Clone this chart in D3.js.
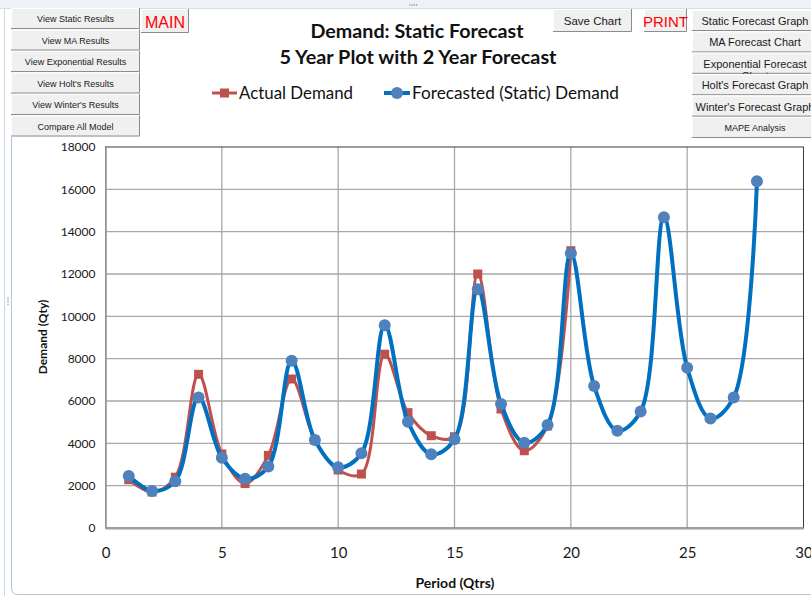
<!DOCTYPE html>
<html>
<head>
<meta charset="utf-8">
<script src="https://cdn.jsdelivr.net/npm/d3@7"></script>
<style>
  html, body { margin: 0; padding: 0; background: #ffffff; }
  svg { display: block; }
  text { font-family: Lato, "Open Sans", "DejaVu Sans", sans-serif; }
  .btn text { font-family: "Liberation Sans", Arial, sans-serif; fill: #1a1a1a; }
</style>
</head>
<body>
<svg id="chart" width="811" height="596"></svg>
<script>
// Quarterly periods and demand series
const actualPeriods = d3.range(1, 21);
const actualDemand = [2280, 1700, 2400, 7260, 3500, 2100, 3430, 7040, 4150, 2740,
                      2550, 8210, 5450, 4360, 4310, 12000, 5620, 3650, 4820, 13100];
const forecastPeriods = d3.range(1, 29);
const forecastDemand = [2460, 1750, 2210, 6160, 3320, 2330, 2900, 7900, 4160, 2870,
                        3530, 9580, 5020, 3480, 4190, 11280, 5860, 4030, 4870, 12980,
                        6710, 4600, 5500, 14680, 7570, 5170, 6170, 16380];
const xTicks = [0, 5, 10, 15, 20, 25, 30];
const yTicks = [0, 2000, 4000, 6000, 8000, 10000, 12000, 14000, 16000, 18000];
const leftButtons = ["View Static Results", "View MA Results", "View Exponential Results",
                     "View Holt's Results", "View Winter's Results", "Compare All Model"];
const rightButtons = ["Static Forecast Graph", "MA Forecast Chart", "Exponential Forecast\nChart",
                      "Holt's Forecast Graph", "Winter's Forecast Graph", "MAPE Analysis"];

const svg = d3.select("#chart");
const W = 811, H = 596;

// Sheet background and chart frame
svg.append("rect").attr("width", W).attr("height", H).attr("fill", "#ffffff");
svg.append("rect").attr("x", 0).attr("y", 0).attr("width", W).attr("height", 8).attr("fill", "#eef2f7");
svg.append("line").attr("x1", 0).attr("x2", W).attr("y1", 8.5).attr("y2", 8.5).attr("stroke", "#d4dde8");
svg.append("line").attr("x1", 4.5).attr("x2", 4.5).attr("y1", 9).attr("y2", H).attr("stroke", "#c9d8ea");
svg.append("path").attr("d", `M11.5,9 V588 Q11.5,594.5 18,594.5 H${W}`)
  .attr("fill", "none").attr("stroke", "#b9c6d6");
// resize handles
svg.append("g").selectAll("circle").data(d3.range(4)).join("circle")
  .attr("cx", d => 410 + d * 2.2).attr("cy", 5).attr("r", 0.7).attr("fill", "#7a8799");
svg.append("g").selectAll("circle").data(d3.range(4)).join("circle")
  .attr("cx", 8).attr("cy", d => 298 + d * 2.2).attr("r", 0.7).attr("fill", "#7a8799");

// Scales
const x = d3.scaleLinear().domain([0, 30]).range([105.5, 803.5]);
const y = d3.scaleLinear().domain([0, 18000]).range([528, 147]);

// Gridlines
const grid = svg.append("g");
grid.selectAll(".gy").data(yTicks.filter(v => v > 0 && v < 18000)).join("line")
  .attr("x1", x(0)).attr("x2", x(30)).attr("y1", d => y(d)).attr("y2", d => y(d))
  .attr("stroke", "#a8a8a8").attr("stroke-width", 1.3);
grid.selectAll(".gx").data(xTicks.filter(v => v > 0 && v < 30)).join("line")
  .attr("x1", d => x(d)).attr("x2", d => x(d)).attr("y1", y(0)).attr("y2", y(18000))
  .attr("stroke", "#a8a8a8").attr("stroke-width", 1.3);

// Plot area border
svg.append("rect").attr("x", x(0)).attr("y", y(18000))
  .attr("width", x(30) - x(0)).attr("height", y(0) - y(18000))
  .attr("fill", "none").attr("stroke", "#3a3a3a").attr("stroke-width", 1);

// Axes
const yAxis = svg.append("g").attr("transform", `translate(${x(0)},0)`)
  .call(d3.axisLeft(y).tickValues(yTicks).tickFormat(d3.format("d")).tickSize(0).tickPadding(10));
yAxis.select(".domain").attr("stroke", "#a0a0a0").attr("stroke-width", 1.8);
yAxis.selectAll("text").attr("font-size", 12).attr("fill", "#1a1a1a")
  .style("font-family", "Lato, sans-serif");

const xAxis = svg.append("g").attr("transform", `translate(0,${y(0)})`)
  .call(d3.axisBottom(x).tickValues(xTicks).tickSize(0).tickPadding(19));
xAxis.select(".domain").attr("stroke", "#a0a0a0").attr("stroke-width", 1.8);
xAxis.selectAll("text").attr("font-size", 15).attr("fill", "#1a1a1a")
  .style("font-family", "Lato, sans-serif");

// Axis titles
svg.append("text").attr("x", 455).attr("y", 588).attr("text-anchor", "middle")
  .attr("font-size", 14).attr("font-weight", "bold").attr("fill", "#111").text("Period (Qtrs)");
svg.append("text").attr("transform", "translate(47,337) rotate(-90)").attr("text-anchor", "middle")
  .attr("font-size", 12).attr("font-weight", "bold").attr("fill", "#111").text("Demand (Qty)");

// Smooth series lines
const smooth = d3.curveCatmullRom.alpha(0.5);
const actualData = actualPeriods.map((p, i) => [p, actualDemand[i]]);
const forecastData = forecastPeriods.map((p, i) => [p, forecastDemand[i]]);
const line = d3.line().x(d => x(d[0])).y(d => y(d[1])).curve(smooth);

const red = "#c0504d", blueLine = "#0070c0", blueMark = "#4f81bd";

svg.append("path").datum(actualData).attr("d", line)
  .attr("fill", "none").attr("stroke", red).attr("stroke-width", 3);
svg.append("g").selectAll("rect").data(actualData).join("rect")
  .attr("x", d => x(d[0]) - 4.5).attr("y", d => y(d[1]) - 4.5)
  .attr("width", 9).attr("height", 9).attr("fill", red);

svg.append("path").datum(forecastData).attr("d", line)
  .attr("fill", "none").attr("stroke", blueLine).attr("stroke-width", 4);
svg.append("g").selectAll("circle").data(forecastData).join("circle")
  .attr("cx", d => x(d[0])).attr("cy", d => y(d[1])).attr("r", 6)
  .attr("fill", blueMark);

// Titles
svg.append("text").attr("x", 417).attr("y", 38).attr("text-anchor", "middle")
  .attr("font-size", 19).attr("font-weight", "bold").attr("fill", "#111")
  .attr("textLength", 213).attr("lengthAdjust", "spacingAndGlyphs").text("Demand: Static Forecast");
svg.append("text").attr("x", 418).attr("y", 64).attr("text-anchor", "middle")
  .attr("font-size", 19).attr("font-weight", "bold").attr("fill", "#111")
  .attr("textLength", 277).attr("lengthAdjust", "spacingAndGlyphs").text("5 Year Plot with 2 Year Forecast");

// Legend
const lg = svg.append("g");
lg.append("line").attr("x1", 212).attr("x2", 237).attr("y1", 93).attr("y2", 93)
  .attr("stroke", red).attr("stroke-width", 3);
lg.append("rect").attr("x", 220).attr("y", 88.5).attr("width", 9).attr("height", 9).attr("fill", red);
lg.append("text").attr("x", 239).attr("y", 99).attr("font-size", 18).attr("fill", "#111")
  .attr("textLength", 114).attr("lengthAdjust", "spacingAndGlyphs").text("Actual Demand");
lg.append("line").attr("x1", 384).attr("x2", 410).attr("y1", 93).attr("y2", 93)
  .attr("stroke", blueLine).attr("stroke-width", 4);
lg.append("circle").attr("cx", 397).attr("cy", 93).attr("r", 6).attr("fill", blueMark);
lg.append("text").attr("x", 412).attr("y", 99).attr("font-size", 18).attr("fill", "#111")
  .attr("textLength", 207).attr("lengthAdjust", "spacingAndGlyphs").text("Forecasted (Static) Demand");

// Form buttons
function button(g, bx, by, bw, bh) {
  g.append("rect").attr("x", bx).attr("y", by).attr("width", bw).attr("height", bh)
    .attr("fill", "#f0f0f0");
  g.append("path").attr("d", `M${bx + 0.5},${by + bh} V${by + 0.5} H${bx + bw}`)
    .attr("fill", "none").attr("stroke", "#ffffff");
  g.append("path").attr("d", `M${bx},${by + bh - 0.5} H${bx + bw - 0.5} V${by}`)
    .attr("fill", "none").attr("stroke", "#8c8c8c");
}

const lb = svg.append("g").attr("class", "btn");
leftButtons.forEach((t, i) => {
  const by = 8 + i * 21.5;
  button(lb, 11, by, 129, 21);
  lb.append("text").attr("x", 75.5).attr("y", by + 14).attr("text-anchor", "middle")
    .attr("font-size", 9).text(t);
});

const mb = svg.append("g").attr("class", "btn");
button(mb, 141, 9, 48, 24);
mb.append("text").attr("x", 165).attr("y", 28).attr("text-anchor", "middle")
  .attr("font-size", 16).style("fill", "#ff0000").text("MAIN");

button(mb, 553, 9, 79, 23);
mb.append("text").attr("x", 592.5).attr("y", 25).attr("text-anchor", "middle")
  .attr("font-size", 11.5).text("Save Chart");

button(mb, 644, 9, 43, 23);
mb.append("text").attr("x", 665.5).attr("y", 27).attr("text-anchor", "middle")
  .attr("font-size", 15).style("fill", "#ff0000").text("PRINT");

const rb = svg.append("g").attr("class", "btn");
rightButtons.forEach((t, i) => {
  const by = 10 + i * 21.4;
  button(rb, 692, by, 126, 21);
  const cid = "clipR" + i;
  rb.append("clipPath").attr("id", cid).append("rect")
    .attr("x", 692).attr("y", by).attr("width", 126).attr("height", 21);
  const fs = i === 5 ? 9 : 11;
  const txt = rb.append("text").attr("clip-path", `url(#${cid})`)
    .attr("x", 755).attr("y", by + (i === 5 ? 14 : 15)).attr("text-anchor", "middle")
    .attr("font-size", fs);
  t.split("\n").forEach((s, k) => {
    txt.append("tspan").attr("x", 755).attr("dy", k === 0 ? 0 : 12).text(s);
  });
});
</script>
</body>
</html>
